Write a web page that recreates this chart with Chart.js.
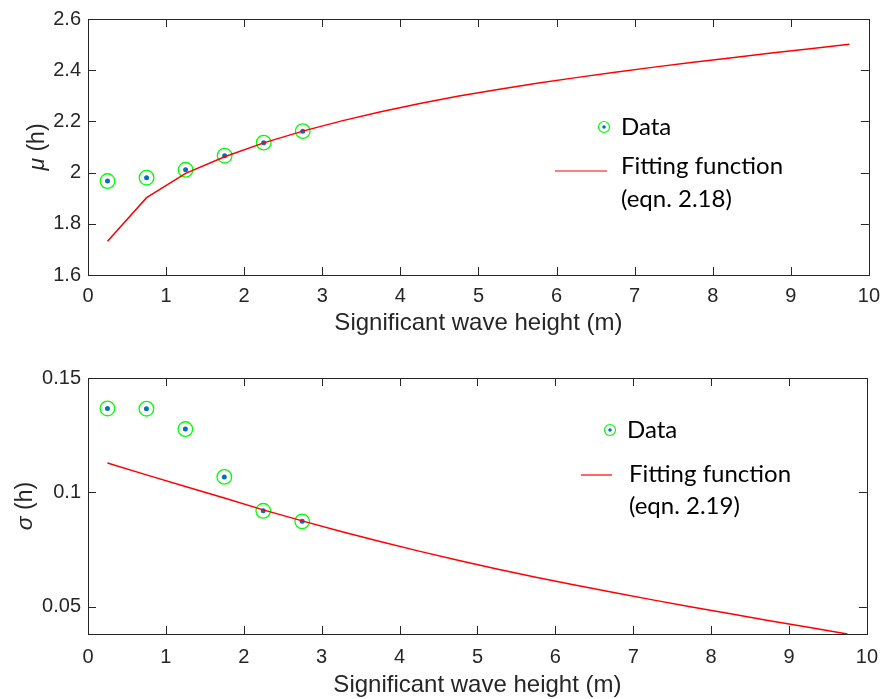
<!DOCTYPE html>
<html>
<head>
<meta charset="utf-8">
<script src="https://cdn.jsdelivr.net/npm/chart.js@4.4.1/dist/chart.umd.min.js"></script>
<style>
  html, body { margin: 0; padding: 0; background: #fff; }
  .panel { position: absolute; left: 0; width: 889px; }
  #top { top: 0; height: 350px; }
  #bottom { top: 350px; height: 349px; }
</style>
</head>
<body>
<div class="panel" id="top"><canvas id="muChart" width="889" height="350"></canvas></div>
<div class="panel" id="bottom"><canvas id="sigmaChart" width="889" height="349"></canvas></div>
<script>
// measured data (significant wave height bins)
const waveHeight = [0.25, 0.75, 1.25, 1.75, 2.25, 2.75];
const muData = [1.967, 1.980, 2.011, 2.066, 2.117, 2.162];
const sigmaData = [0.1367, 0.1366, 0.1277, 0.1068, 0.0920, 0.0874];

// fitting functions
const fitX = [0.25, 0.75, 1.25, 1.75, 2.25, 2.75, 3.25, 3.75, 4.25, 4.75,
              5.25, 5.75, 6.25, 6.75, 7.25, 7.75, 8.25, 8.75, 9.25, 9.75];
const muFit = [1.732, 1.902, 1.997, 2.062, 2.116, 2.162, 2.202, 2.238, 2.270, 2.299,
               2.325, 2.349, 2.371, 2.392, 2.412, 2.431, 2.449, 2.467, 2.484, 2.501];
const sigmaFit = [0.1129, 0.1077, 0.1026, 0.0976, 0.0924, 0.0876, 0.0830, 0.0786, 0.0744, 0.0704,
                  0.0666, 0.0630, 0.0596, 0.0563, 0.0531, 0.0500, 0.0470, 0.0440, 0.0411, 0.0382];

// tick labels
const xTicks = [0, 1, 2, 3, 4, 5, 6, 7, 8, 9, 10];
const muTicks = [1.6, 1.8, 2, 2.2, 2.4, 2.6];
const sigmaTicks = [0.05, 0.1, 0.15];

const AXIS = '#262626';
const TICK_FONT = { family: 'Liberation Sans, Arial, sans-serif', size: 20 };
const LEG_FONT = '24px Lato, "Noto Sans", sans-serif';

const toPoints = (xs, ys) => xs.map((x, i) => ({ x: x, y: ys[i] }));

// box, inward ticks, axis titles and the legend
const decor = {
  id: 'decor',
  afterDatasetsDraw(chart, args, o) {
    const { ctx, chartArea: a, scales: { x, y } } = chart;
    ctx.save();
    ctx.strokeStyle = AXIS;
    ctx.lineWidth = 1;
    ctx.beginPath();
    x.ticks.forEach(t => {
      const px = Math.round(x.getPixelForValue(t.value)) + 0.5;
      ctx.moveTo(px, a.bottom); ctx.lineTo(px, a.bottom - 8);
      ctx.moveTo(px, a.top); ctx.lineTo(px, a.top + 8);
    });
    y.ticks.forEach(t => {
      const py = Math.round(y.getPixelForValue(t.value)) + 0.5;
      ctx.moveTo(a.left, py); ctx.lineTo(a.left + 8, py);
      ctx.moveTo(a.right, py); ctx.lineTo(a.right - 8, py);
    });
    ctx.stroke();
    ctx.strokeRect(Math.round(a.left) + 0.5, Math.round(a.top) + 0.5,
                   Math.round(a.right - a.left), Math.round(a.bottom - a.top));

    // x title
    ctx.fillStyle = AXIS;
    ctx.font = '24px "Liberation Sans", Arial, sans-serif';
    ctx.textAlign = 'center';
    ctx.textBaseline = 'middle';
    ctx.fillText('Significant wave height (m)', (a.left + a.right) / 2, a.bottom + o.titleOff);

    // y title: italic greek symbol + " (h)"
    ctx.save();
    ctx.translate(o.yTitleX, (a.top + a.bottom) / 2);
    ctx.rotate(-Math.PI / 2);
    ctx.textAlign = 'left';
    const gFont = 'italic 23px "Liberation Sans", Arial, sans-serif';
    const rFont = '23px "Liberation Sans", Arial, sans-serif';
    ctx.font = gFont; const w1 = ctx.measureText(o.symbol).width;
    ctx.font = rFont; const w2 = ctx.measureText(' (h)').width;
    ctx.font = gFont; ctx.fillText(o.symbol, -(w1 + w2) / 2, 0);
    ctx.font = rFont; ctx.fillText(' (h)', -(w1 + w2) / 2 + w1, 0);
    ctx.restore();

    // legend
    const L = o.legend;
    ctx.beginPath();
    ctx.arc(L.mx, L.my, 5.5, 0, Math.PI * 2);
    ctx.strokeStyle = '#00ff00'; ctx.lineWidth = 1.2; ctx.stroke();
    ctx.beginPath();
    ctx.arc(L.mx, L.my, 1.8, 0, Math.PI * 2);
    ctx.fillStyle = '#0072BD'; ctx.fill();
    ctx.beginPath();
    ctx.moveTo(L.lx0, L.ly); ctx.lineTo(L.lx1, L.ly);
    ctx.strokeStyle = '#ff0000'; ctx.lineWidth = 1.2; ctx.stroke();
    ctx.fillStyle = '#000';
    ctx.font = LEG_FONT;
    ctx.textAlign = 'left';
    ctx.fillText('Data', L.tx0, L.my);
    ctx.fillText('Fitting function', L.tx, L.t1);
    ctx.fillText(L.eqn, L.tx, L.t2);
    ctx.restore();
  }
};

const makeChart = (id, ys, fit, yTicks, yMin, yMax, pad, xHeight, tickPad, deco) => {
  new Chart(document.getElementById(id).getContext('2d'), {
    type: 'scatter',
    data: {
      datasets: [
        {
          type: 'line',
          data: toPoints(fitX, fit),
          borderColor: '#ff0000',
          borderWidth: 1.5,
          pointRadius: 0,
          tension: 0,
          fill: false
        },
        {
          data: toPoints(waveHeight, ys),
          pointRadius: 7.3,
          pointBorderWidth: 1.3,
          pointBorderColor: '#00ff00',
          pointBackgroundColor: 'rgba(0,0,0,0)'
        },
        {
          data: toPoints(waveHeight, ys),
          pointRadius: 2.5,
          pointBorderWidth: 0,
          pointBackgroundColor: '#0072BD'
        }
      ]
    },
    options: {
      responsive: false,
      animation: false,
      layout: { padding: { top: pad, right: 17, left: 0, bottom: 0 } },
      plugins: { legend: { display: false }, tooltip: { enabled: false }, decor: deco },
      scales: {
        x: {
          type: 'linear', min: 0, max: 10,
          afterBuildTicks: s => { s.ticks = xTicks.map(v => ({ value: v })); },
          afterFit: s => { s.height = xHeight; },
          grid: { display: false, drawTicks: false },
          border: { display: false },
          ticks: { color: AXIS, font: TICK_FONT, padding: tickPad, maxRotation: 0, callback: v => String(v) }
        },
        y: {
          type: 'linear', min: yMin, max: yMax,
          afterBuildTicks: s => { s.ticks = yTicks.map(v => ({ value: v })); },
          afterFit: s => { s.width = 88; },
          grid: { display: false, drawTicks: false },
          border: { display: false },
          ticks: { color: AXIS, font: TICK_FONT, padding: 7, callback: v => String(v) }
        }
      }
    },
    plugins: [decor]
  });
};

makeChart('muChart', muData, muFit, muTicks, 1.6, 2.6, 19, 75, 9, {
  symbol: 'μ', yTitleX: 38, titleOff: 48,
  legend: { mx: 604, my: 127, lx0: 555, lx1: 607, ly: 171, tx0: 621, tx: 621, t1: 166, t2: 199, eqn: '(eqn. 2.18)' }
});

makeChart('sigmaChart', sigmaData, sigmaFit, sigmaTicks, 0.0382, 0.15, 28, 65, 11, {
  symbol: 'σ', yTitleX: 26, titleOff: 51,
  legend: { mx: 610, my: 80, lx0: 581, lx1: 612, ly: 125, tx0: 627, tx: 629, t1: 124, t2: 156, eqn: '(eqn. 2.19)' }
});
</script>
</body>
</html>
